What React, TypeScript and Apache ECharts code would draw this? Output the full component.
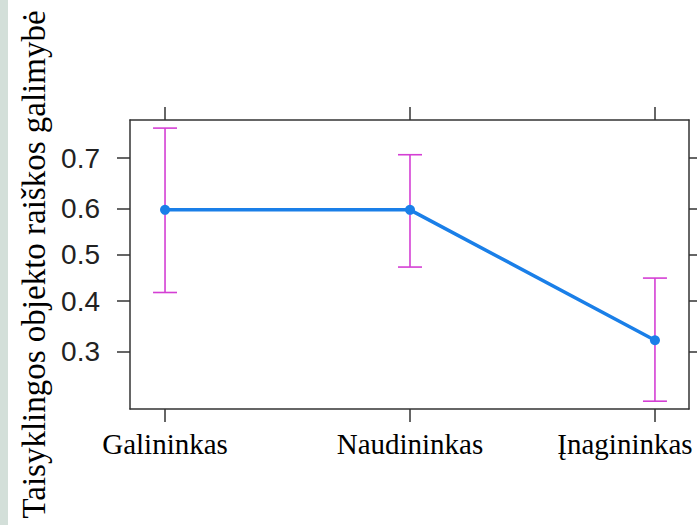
import React, { useEffect, useRef } from "react";
import * as echarts from "echarts";

const categories = ["Galininkas", "Naudininkas", "Įnagininkas"];
const probability = [0.597, 0.597, 0.321];
const lowerCI = [0.418, 0.473, 0.217];
const upperCI = [0.752, 0.706, 0.449];
const yTickProbs = [0.3, 0.4, 0.5, 0.6, 0.7];
const yRangeProbs = [0.2056, 0.765];
const yTitle = "Taisyklingos objekto raiškos galimybė";

const logit = (p: number) => Math.log(p / (1 - p));
const invLogit = (v: number) => 1 / (1 + Math.exp(-v));

const SERIF = "'Liberation Serif', 'Times New Roman', serif";
const SANS = "'Liberation Sans', Arial, sans-serif";

export default function App() {
  const ref = useRef<HTMLDivElement>(null);

  useEffect(() => {
    if (!ref.current) return;
    const chart = echarts.init(ref.current, null, { renderer: "svg" });
    const idx = categories.map((_, i) => i);
    const lineData = probability.map((p, i) => [i, logit(p)]);
    const errData = categories.map((_, i) => [i, logit(lowerCI[i]), logit(upperCI[i])]);
    const yTicks = yTickProbs.map(logit);
    const axisColor = "#333333";

    const xBase = {
      type: "value",
      min: -0.143,
      max: 2.139,
      splitLine: { show: false },
      axisLine: { show: true, onZero: false, lineStyle: { color: axisColor, width: 1.5 } },
      axisTick: { show: true, length: 13, inside: false, customValues: idx, lineStyle: { color: axisColor, width: 1.5 } },
    };
    const yBase = {
      type: "value",
      min: logit(yRangeProbs[0]),
      max: logit(yRangeProbs[1]),
      splitLine: { show: false },
      axisLine: { show: true, onZero: false, lineStyle: { color: axisColor, width: 1.5 } },
      axisTick: { show: true, length: 13, inside: false, customValues: yTicks, lineStyle: { color: axisColor, width: 1.5 } },
    };

    const lastIdx = categories.length - 1;

    chart.setOption({
      animation: false,
      backgroundColor: "#ffffff",
      grid: { left: 130, right: 8, top: 120, bottom: 116, containLabel: false, outerBoundsMode: "none" },
      xAxis: [
        {
          ...xBase,
          position: "bottom",
          axisLabel: {
            show: true,
            customValues: idx,
            margin: 20,
            fontFamily: SERIF,
            fontSize: 29,
            color: "#000000",
            formatter: (v: number) => {
              const i = Math.round(v);
              const name = categories[i] ?? "";
              return i === lastIdx ? "{last|" + name + "}" : name;
            },
            rich: {
              last: {
                fontFamily: SERIF,
                fontSize: 29,
                color: "#000000",
                padding: [0, 60, 0, 0],
              },
            },
          },
        },
        { ...xBase, position: "top", axisLabel: { show: false } },
      ],
      yAxis: [
        {
          ...yBase,
          position: "left",
          name: yTitle,
          nameLocation: "middle",
          nameRotate: 90,
          nameGap: 80,
          nameTextStyle: {
            fontFamily: SERIF,
            fontSize: 33,
            color: "#000000",
          },
          axisLabel: {
            show: true,
            customValues: yTicks,
            margin: 30,
            fontFamily: SANS,
            fontSize: 28,
            color: "#222222",
            formatter: (v: number) => invLogit(v).toFixed(1),
          },
        },
        { ...yBase, position: "right", axisLabel: { show: false } },
      ],
      graphic: [
        { type: "rect", shape: { x: 0, y: 0, width: 8, height: 525 }, style: { fill: "#d3dfd9" }, silent: true },
      ],
      series: [
        {
          type: "custom",
          xAxisIndex: 0,
          yAxisIndex: 0,
          data: errData,
          z: 2,
          renderItem: (params: any, api: any) => {
            const x = api.value(0);
            const lo = api.coord([x, api.value(1)]);
            const hi = api.coord([x, api.value(2)]);
            const cap = 12;
            const style = { stroke: "#d43fd4", lineWidth: 1.6 };
            return {
              type: "group",
              children: [
                { type: "line", shape: { x1: lo[0], y1: lo[1], x2: hi[0], y2: hi[1] }, style },
                { type: "line", shape: { x1: lo[0] - cap, y1: lo[1], x2: lo[0] + cap, y2: lo[1] }, style },
                { type: "line", shape: { x1: hi[0] - cap, y1: hi[1], x2: hi[0] + cap, y2: hi[1] }, style },
              ],
            };
          },
        },
        {
          type: "line",
          xAxisIndex: 0,
          yAxisIndex: 0,
          data: lineData,
          z: 3,
          symbol: "circle",
          symbolSize: 10,
          lineStyle: { color: "#1a7fe8", width: 3.5 },
          itemStyle: { color: "#1a7fe8" },
        },
      ],
    });
    return () => chart.dispose();
  }, []);

  return (
    <div
      ref={ref}
      style={{ position: "fixed", left: 0, top: 0, width: 697, height: 525 }}
    />
  );
}
